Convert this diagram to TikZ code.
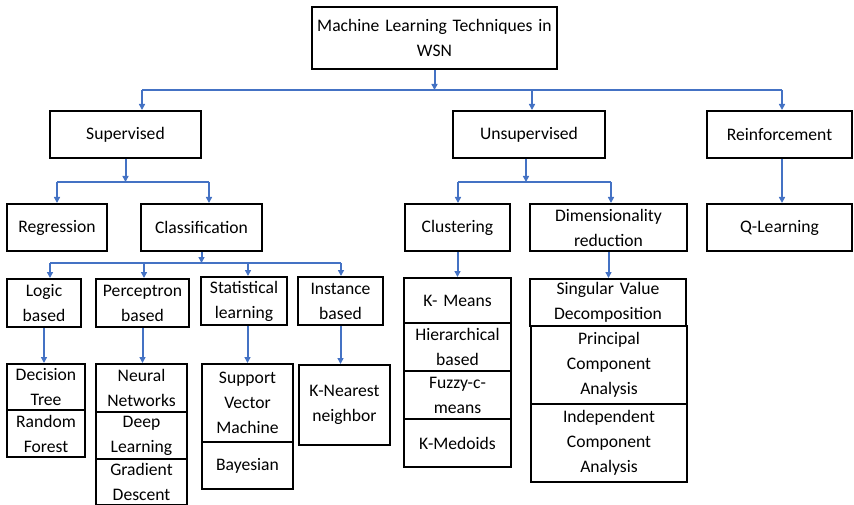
\documentclass[tikz,border=0pt]{standalone}
\usepackage{fontspec}
\setmainfont{Carlito}
\usetikzlibrary{arrows.meta}
\definecolor{conn}{RGB}{68,114,196}
\tikzset{
  box/.style={draw=black, line width=2pt, inner sep=0pt, align=center,
    font=\fontsize{17.6}{25}\selectfont},
  link/.style={draw=conn, line width=2pt},
  arr/.style={link, -{Triangle[length=6pt,width=6pt]}},
}
\newcommand{\bx}[7]{\node[box, minimum width=#4pt, minimum height=#5pt, text width=#6pt] (#1) at (#2,#3) {#7};}
\begin{document}
\begin{tikzpicture}[x=1pt,y=-1pt]
\useasboundingbox (0,0) rectangle (854,505);
\clip (0,0) rectangle (854,505);
% level 0
\bx{top}{434.5}{38}{245}{62}{240}{Machine Learning Techniques in\\WSN}
% level 1
\bx{sup}{125.5}{134.5}{151}{47}{146}{Supervised}
\bx{unsup}{529}{134.5}{152}{47}{146}{Unsupervised}
\bx{reinf}{779.5}{134.5}{145}{47}{140}{Reinforcement}
% level 2
\bx{reg}{57}{227.5}{100}{47}{96}{Regression}
\bx{cls}{201.5}{227.5}{121}{47}{116}{Classification}
\bx{clu}{457.5}{227.5}{105}{47}{100}{Clustering}
\bx{dim}{608.5}{227.5}{157}{47}{150}{Dimensionality\\reduction}
\bx{ql}{779.5}{227.5}{145}{47}{140}{Q-Learning}
% level 3
\bx{logic}{44}{303}{74}{48}{72}{Logic\\based}
\bx{perc}{142.5}{303}{93}{48}{92}{Perceptron\\based}
\bx{stat}{244}{301}{86}{48}{86}{Statistical\\learning}
\bx{inst}{340.5}{301}{85}{48}{84}{Instance\\based}
\bx{km}{457.5}{300.5}{107}{45}{104}{K- Means}
\bx{hier}{457.5}{347}{107}{48}{106}{Hierarchical\\based}
\bx{fuzzy}{457.5}{395}{107}{48}{104}{Fuzzy-c-\\means}
\bx{kmed}{457.5}{443}{107}{48}{104}{K-Medoids}
\bx{svd}{608}{302.5}{156}{47}{154}{Singular Value\\Decomposition}
\bx{pca}{609}{365}{156}{78}{154}{Principal\\Component\\Analysis}
\bx{ica}{609}{443}{156}{78}{154}{Independent\\Component\\Analysis}
% level 4
\bx{dt}{46}{387}{78}{46}{78}{Decision\\Tree}
\bx{rf}{46}{433.5}{78}{47}{78}{Random\\Forest}
\bx{nn}{141.5}{388}{91}{48}{90}{Neural\\Networks}
\bx{dl}{141.5}{435.5}{91}{47}{90}{Deep\\Learning}
\bx{gd}{141.5}{482}{91}{46}{90}{Gradient\\Descent}
\bx{svm}{247.5}{403}{91}{78}{90}{Support\\Vector\\Machine}
\bx{bay}{247.5}{465.5}{91}{47}{90}{Bayesian}
\bx{knn}{344.5}{405}{91}{80}{90}{K-Nearest\\neighbor}
% bus coordinates
\coordinate (bL) at (142,90);
\coordinate (bU) at (532,90);
\coordinate (bR) at (782,90);
\coordinate (s1) at (57,182);
\coordinate (s2) at (209,182);
\coordinate (u1) at (458,182);
\coordinate (u2) at (611,182);
\coordinate (rx) at (782,0);
\coordinate (ux) at (526,0);
\coordinate (c1) at (50,263);
\coordinate (c2) at (144,263);
\coordinate (c3) at (248,263);
\coordinate (c4) at (341,263);
% top connectors
\draw[link] (bL) -- (bR);
\draw[arr] (top.south) -- (top.south |- bL);
\draw[arr] (bL) -- (sup.north -| bL);
\draw[arr] (bU) -- (unsup.north -| bU);
\draw[arr] (bR) -- (reinf.north -| bR);
% supervised
\draw[link] (s1) -- (s2);
\draw[arr] (sup.south) -- (sup.south |- s1);
\draw[arr] (s1) -- (reg.north -| s1);
\draw[arr] (s2) -- (cls.north -| s2);
% unsupervised
\draw[link] (u1) -- (u2);
\draw[arr] (unsup.south -| ux) -- (u1 -| ux);
\draw[arr] (u1) -- (clu.north -| u1);
\draw[arr] (u2) -- (dim.north -| u2);
% reinforcement
\draw[arr] (reinf.south -| rx) -- (ql.north -| rx);
% classification
\draw[link] (c1) -- (c4);
\draw[arr] (cls.south) -- (cls.south |- c1);
\draw[arr] (c1) -- (logic.north -| c1);
\draw[arr] (c2) -- (perc.north -| c2);
\draw[arr] (c3) -- (stat.north -| c3);
\draw[arr] (c4) -- (inst.north -| c4);
% leaves
\draw[arr] (logic.south) -- (dt.north -| logic.south);
\draw[arr] (perc.south) -- (nn.north -| perc.south);
\draw[arr] (stat.south -| svm.north) -- (svm.north);
\draw[arr] (inst.south) -- (knn.north -| inst.south);
\draw[arr] (clu.south) -- (km.north -| clu.south);
\draw[arr] (dim.south) -- (svd.north -| dim.south);
\end{tikzpicture}
\end{document}
